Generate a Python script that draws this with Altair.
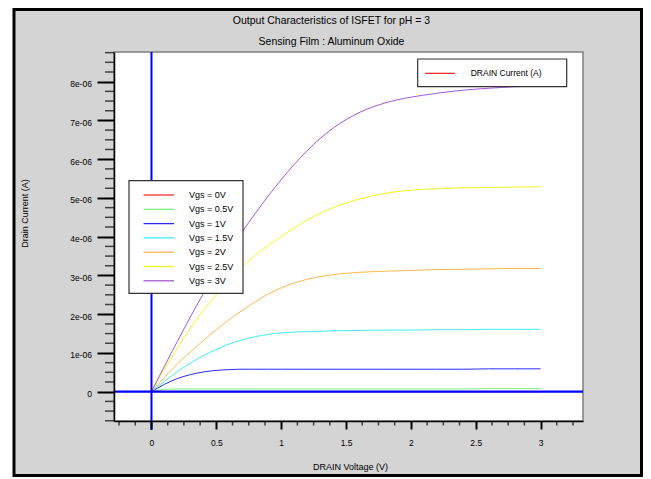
import altair as alt
import pandas as pd
import numpy as np

# Drain voltage grid (V)
V = [0, 0.1, 0.2, 0.3, 0.4, 0.5, 0.6, 0.7, 0.8, 0.9, 1.0,
     1.2, 1.4, 1.6, 1.8, 2.0, 2.2, 2.4, 2.6, 2.8, 3.0]

series_labels = ["Vgs = 0V", "Vgs = 0.5V", "Vgs = 1V", "Vgs = 1.5V",
                 "Vgs = 2V", "Vgs = 2.5V", "Vgs = 3V"]
series_colors = ["#ff3030", "#80f080", "#2a2aff", "#40f0f0",
                 "#ffb850", "#f5f520", "#a25ad8"]

# Drain current in units of 1e-06 A
vgs_0 = [0] * 21
vgs_05 = [0, 0.06, 0.07, 0.07, 0.07, 0.07, 0.07, 0.07, 0.07, 0.07, 0.07,
          0.07, 0.07, 0.07, 0.07, 0.07, 0.07, 0.07, 0.08, 0.08, 0.08]
vgs_1 = [0, 0.19, 0.34, 0.44, 0.51, 0.55, 0.57, 0.58, 0.58, 0.58, 0.58,
         0.58, 0.58, 0.58, 0.58, 0.58, 0.58, 0.58, 0.59, 0.59, 0.59]
vgs_15 = [0, 0.27, 0.52, 0.74, 0.93, 1.09, 1.23, 1.34, 1.42, 1.48, 1.52,
          1.55, 1.57, 1.58, 1.59, 1.59, 1.60, 1.60, 1.61, 1.61, 1.61]
vgs_2 = [0, 0.37, 0.72, 1.03, 1.32, 1.60, 1.86, 2.10, 2.32, 2.52, 2.68,
         2.90, 3.02, 3.08, 3.11, 3.13, 3.15, 3.16, 3.17, 3.18, 3.18]
vgs_25 = [0, 0.58, 1.13, 1.64, 2.10, 2.50, 2.90, 3.22, 3.52, 3.77, 4.00,
          4.43, 4.75, 4.97, 5.12, 5.20, 5.24, 5.26, 5.27, 5.28, 5.29]
vgs_3 = [0, 0.66, 1.30, 1.93, 2.53, 3.10, 3.63, 4.13, 4.60, 5.05, 5.47,
         6.22, 6.80, 7.20, 7.45, 7.60, 7.70, 7.78, 7.83, 7.87, 7.89]

all_series = [vgs_0, vgs_05, vgs_1, vgs_15, vgs_2, vgs_25, vgs_3]

x_major = [0, 0.5, 1, 1.5, 2, 2.5, 3]
y_major = [i * 1e-6 for i in range(9)]

rows = []
for k, (lab, vals) in enumerate(zip(series_labels, all_series)):
    for v, i in zip(V, vals):
        rows.append({"series": lab, "order": k, "V": v, "I": i * 1e-6})
df = pd.DataFrame(rows)

W, H = 469, 369
FONT = "Liberation Sans"

xs = alt.Scale(domain=[-0.289, 3.327], nice=False, zero=False)
ys = alt.Scale(domain=[-0.756e-6, 8.766e-6], nice=False, zero=False)
cs = alt.Scale(domain=series_labels, range=series_colors)

xaxis = alt.Axis(values=x_major, format="~g", tickSize=8, labelPadding=9.5,
                 labelFontSize=8.5, title="DRAIN Voltage (V)", titleFontSize=9,
                 titleX=236, titleY=45, titleBaseline="middle", titleAlign="center",
                 zindex=1, labelOverlap=False)
yaxis = alt.Axis(values=y_major,
                 labelExpr="datum.value == 0 ? '0' : replace(format(datum.value, '.0e'), 'e-', 'e-0')",
                 tickSize=17, labelPadding=5.5, labelFontSize=8.5, labelOffset=2,
                 title="Drain Current (A)", titleFontSize=9, titleX=-90, titleY=161,
                 titleAngle=270, titleAlign="center", titleBaseline="middle",
                 zindex=1, labelOverlap=False)

one = alt.Data(values=[{}])

frame = alt.Chart(one).mark_rect(fill="#d4d4d4", stroke="black", strokeWidth=3).encode(
    x=alt.value(-100), x2=alt.value(527.5), y=alt.value(-42.5), y2=alt.value(423.5))

plotbg = alt.Chart(one).mark_rect(fill="white", stroke="#808080", strokeWidth=1.5).encode(
    x=alt.value(0), x2=alt.value(W), y=alt.value(0), y2=alt.value(H))

titles_df = pd.DataFrame({
    "t": ["Output Characteristics of ISFET for pH = 3", "Sensing Film : Aluminum Oxide"],
    "py": [-31, -10]})
titles = alt.Chart(titles_df).mark_text(fontSize=10.5, font=FONT, color="black",
                                        align="center", baseline="middle").encode(
    x=alt.value(217.5), y=alt.Y("py:Q", scale=None), text="t:N")

curves = alt.Chart(df).mark_line(strokeWidth=1, clip=True, interpolate="monotone").encode(
    x=alt.X("V:Q", scale=xs, axis=xaxis),
    y=alt.Y("I:Q", scale=ys, axis=yaxis),
    color=alt.Color("series:N", scale=cs, legend=None),
    order=alt.Order("V:Q"),
    detail="series:N")

zero_v = alt.Chart(pd.DataFrame({"x0": [0.0]})).mark_rule(color="#0000ff", strokeWidth=2).encode(
    x=alt.X("x0:Q", scale=xs, axis=xaxis), y=alt.value(0), y2=alt.value(H + 9))
zero_h = alt.Chart(pd.DataFrame({"y0": [0.0]})).mark_rule(color="#0000ff", strokeWidth=2.2).encode(
    y=alt.Y("y0:Q", scale=ys, axis=yaxis), x=alt.value(0), x2=alt.value(W))

x_minor = [v for v in np.arange(-0.25, 3.26, 0.125) if abs(v * 2 - round(v * 2)) > 1e-9]
y_minor = [v * 1e-6 for v in np.arange(-0.75, 8.76, 0.25) if abs(v - round(v)) > 1e-9]

xminor = alt.Chart(pd.DataFrame({"xm": x_minor})).mark_rule(color="#404040", strokeWidth=1.5).encode(
    x=alt.X("xm:Q", scale=xs, axis=xaxis), y=alt.value(H), y2=alt.value(H + 4.5))
yminor = alt.Chart(pd.DataFrame({"ym": y_minor})).mark_rule(color="#404040", strokeWidth=1.5).encode(
    y=alt.Y("ym:Q", scale=ys, axis=yaxis), x=alt.value(-9), x2=alt.value(0))

# Legend 1 (Vgs series)
leg_df = pd.DataFrame({"series": series_labels, "idx": list(range(7))})
leg_box = alt.Chart(one).mark_rect(fill="white", stroke="#333333", strokeWidth=1.2).encode(
    x=alt.value(15), x2=alt.value(129), y=alt.value(128.7), y2=alt.value(241.3))
leg_lines = alt.Chart(leg_df).transform_calculate(ly="143 + 14.3 * datum.idx").mark_rule(strokeWidth=1.3).encode(
    y=alt.Y("ly:Q", scale=None), x=alt.value(29.5), x2=alt.value(60),
    color=alt.Color("series:N", scale=cs, legend=None))
leg_text = alt.Chart(leg_df).transform_calculate(ly="143 + 14.3 * datum.idx").mark_text(
    fontSize=9, font=FONT, color="black", align="left", baseline="middle").encode(
    y=alt.Y("ly:Q", scale=None), x=alt.value(75), text="series:N")

# Legend 2 (DRAIN Current)
leg2_df = pd.DataFrame({"name": ["DRAIN Current (A)"]})
leg2_box = alt.Chart(one).mark_rect(fill="white", stroke="#333333", strokeWidth=1.2).encode(
    x=alt.value(303.7), x2=alt.value(452.7), y=alt.value(7), y2=alt.value(34.7))
leg2_line = alt.Chart(leg2_df).mark_rule(color="#ff2020", strokeWidth=1.2).encode(
    x=alt.value(311), x2=alt.value(341), y=alt.value(21.3))
leg2_text = alt.Chart(leg2_df).mark_text(fontSize=8.5, font=FONT, color="black",
                                         align="left", baseline="middle").encode(
    x=alt.value(356.7), y=alt.value(21.3), text="name:N")

chart = alt.layer(
    frame, plotbg, titles, curves, zero_v, zero_h, xminor, yminor,
    leg_box, leg_lines, leg_text, leg2_box, leg2_line, leg2_text
).properties(
    width=W, height=H,
    padding={"left": 106, "top": 44, "right": 60, "bottom": 56},
    autosize=alt.AutoSizeParams(type="none"),
    background="white",
).configure_view(strokeWidth=0).configure_axis(
    grid=False, domainColor="black", domainWidth=1.5, tickColor="black", tickWidth=2,
    labelColor="black", titleColor="black", labelFont=FONT, titleFont=FONT,
    titleFontWeight="normal")

chart.save("out.html", embed_options={"renderer": "svg", "actions": False})
